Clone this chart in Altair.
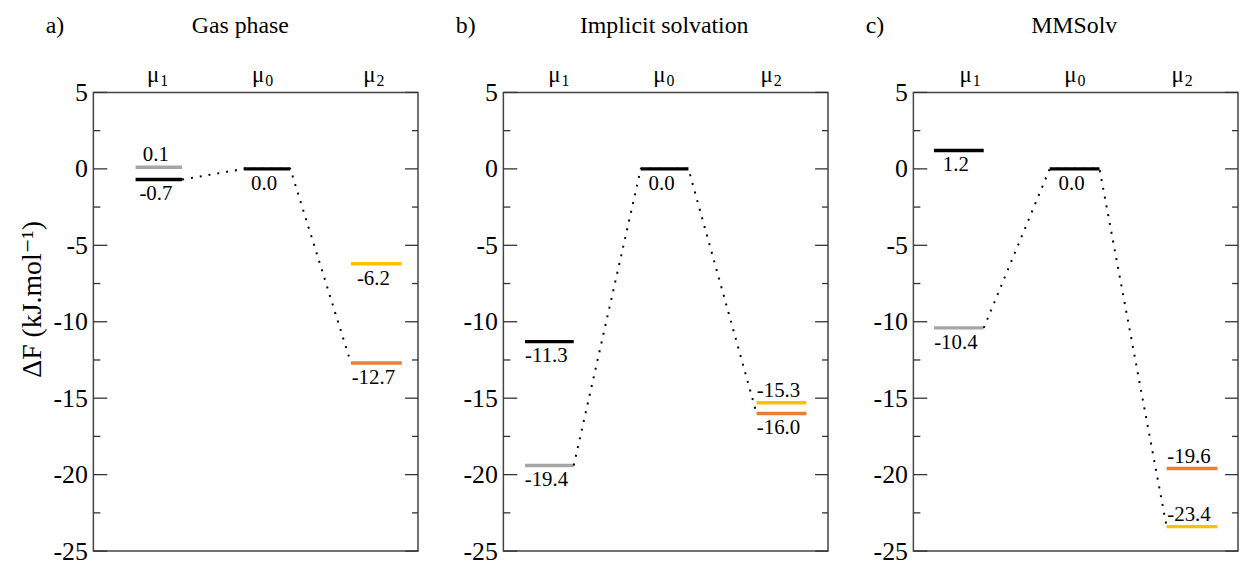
import altair as alt
import pandas as pd

FONT = "Liberation Serif, Times New Roman, DejaVu Serif, serif"
W, H = 327, 462

# ---- data ----
states = ["μ1", "μ1", "μ0", "μ2", "μ2"]
gas_values = [0.1, -0.7, 0.0, -6.2, -12.7]
gas_colors = ["gray", "black", "black", "yellow", "orange"]
gas_pos = ["above", "below", "below", "below", "below"]
gas_path = [-0.7, -12.7]

imp_values = [-11.3, -19.4, 0.0, -15.3, -16.0]
imp_colors = ["black", "gray", "black", "yellow", "orange"]
imp_pos = ["below", "below", "below", "above", "below"]
imp_path = [-19.4, -16.0]

mm_values = [1.2, -10.4, 0.0, -19.6, -23.4]
mm_colors = ["black", "gray", "black", "orange", "yellow"]
mm_pos = ["below", "below", "below", "above", "above"]
mm_path = [-10.4, -23.4]

mu_symbol = ["μ", "μ", "μ"]
mu_index = ["1", "0", "2"]
major_ticks = [-25, -20, -15, -10, -5, 0, 5]
minor_ticks = [-22.5, -17.5, -12.5, -7.5, -2.5, 2.5]

# ---- layout (x extents of levels per state, in panel units 0..3) ----
layout_a = {"μ1": (0.39, 0.82), "μ0": (1.39, 1.82), "μ2": (2.38, 2.85), "mu": [0.59, 1.56, 2.59], "title_x": 148}
layout_b = {"μ1": (0.20, 0.65), "μ0": (1.27, 1.71), "μ2": (2.34, 2.80), "mu": [0.51, 1.48, 2.47], "title_x": 162}
layout_c = {"μ1": (0.19, 0.65), "μ0": (1.26, 1.72), "μ2": (2.34, 2.81), "mu": [0.52, 1.49, 2.48], "title_x": 162}

color_scale = alt.Scale(domain=["black", "gray", "yellow", "orange"],
                        range=["#000000", "#a6a6a6", "#ffc000", "#ed7d31"])
xscale = alt.Scale(domain=[0, 3], nice=False, zero=False)
yscale = alt.Scale(domain=[-25, 5], nice=False, zero=False)


def panel(letter, title, values, colors, pos, path_vals, lay, first):
    df = pd.DataFrame({
        "state": states,
        "value": values,
        "color": colors,
        "pos": pos,
    })
    df["x"] = [lay[s][0] for s in states]
    df["x2"] = [lay[s][1] for s in states]
    df["xc"] = (df["x"] + df["x2"]) / 2
    df["label"] = [f"{v:.1f}" for v in values]

    path_df = pd.DataFrame({
        "x": [lay["μ1"][1], lay["μ0"][0], lay["μ0"][1], lay["μ2"][0]],
        "value": [path_vals[0], 0.0, 0.0, path_vals[1]],
        "o": [0, 1, 2, 3],
    })
    mu_df = pd.DataFrame({"x": lay["mu"], "s": mu_symbol, "i": mu_index})

    common = dict(values=major_ticks, ticks=False, domain=False, grid=False,
                  labelFont=FONT, labelFontSize=26, labelColor="black",
                  labelExpr="toString(datum.value)",
                  labelPadding=6, minExtent=44, maxExtent=44)
    if first:
        yaxis = alt.Axis(title="ΔF (kJ.mol⁻¹)", titleFont=FONT, titleFontSize=28,
                         titleFontWeight="normal", titleColor="black",
                         titleX=-61, titleY=208, titleAngle=270,
                         titleAlign="center", titleBaseline="middle", **common)
    else:
        yaxis = alt.Axis(title=None, **common)

    def Y(field):
        return alt.Y(f"{field}:Q", scale=yscale, axis=yaxis)

    def X(field):
        return alt.X(f"{field}:Q", scale=xscale, axis=None)

    path = alt.Chart(path_df).mark_line(color="black", strokeDash=[2, 7], strokeWidth=2).encode(
        x=X("x"), y=Y("value"), order="o:Q",
    )
    bars = alt.Chart(df).mark_rule(strokeWidth=3.5).encode(
        x=X("x"), x2="x2:Q", y=Y("value"),
        color=alt.Color("color:N", scale=color_scale, legend=None),
    )
    lab_below = alt.Chart(df).transform_filter(alt.datum.pos == "below").mark_text(
        font=FONT, fontSize=21, baseline="alphabetic", dy=21, dx=-3, color="black"
    ).encode(x=X("xc"), y=Y("value"), text="label:N")
    lab_above = alt.Chart(df).transform_filter(alt.datum.pos == "above").mark_text(
        font=FONT, fontSize=21, baseline="alphabetic", dy=-6, dx=-3, color="black"
    ).encode(x=X("xc"), y=Y("value"), text="label:N")

    tick_df_major = pd.DataFrame({"value": major_ticks})
    tick_df_minor = pd.DataFrame({"value": minor_ticks})

    def ticks(d, x0, x1):
        return alt.Chart(d).mark_rule(color="#333333", strokeWidth=1.3).encode(
            y=Y("value"), x=alt.value(x0), x2=alt.value(x1),
        )

    tk = [ticks(tick_df_major, 0, 14), ticks(tick_df_minor, 0, 7),
          ticks(tick_df_major, W - 13, W), ticks(tick_df_minor, W - 6, W)]

    mu_s = alt.Chart(mu_df).mark_text(font=FONT, fontSize=23, baseline="alphabetic", align="right",
                                      dx=2, color="black").encode(
        x=X("x"), y=alt.value(-10), text="s:N",
    )
    mu_i = alt.Chart(mu_df).mark_text(font=FONT, fontSize=16, baseline="alphabetic", align="left",
                                      dx=3, color="black").encode(
        x=X("x"), y=alt.value(-6), text="i:N",
    )
    head = pd.DataFrame({"letter": [letter], "title": [title]})
    let = alt.Chart(head).mark_text(font=FONT, fontSize=24, baseline="alphabetic", align="left",
                                    color="black").encode(
        x=alt.value(-48), y=alt.value(-60), text="letter:N")
    ttl = alt.Chart(head).mark_text(font=FONT, fontSize=24, baseline="alphabetic", align="center",
                                    color="black").encode(
        x=alt.value(lay["title_x"]), y=alt.value(-60), text="title:N")

    return alt.layer(bars, path, lab_below, lab_above, *tk, mu_s, mu_i, let, ttl).properties(width=W, height=H)


pa = panel("a)", "Gas phase", gas_values, gas_colors, gas_pos, gas_path, layout_a, True)
pb = panel("b)", "Implicit solvation", imp_values, imp_colors, imp_pos, imp_path, layout_b, False)
pc = panel("c)", "MMSolv", mm_values, mm_colors, mm_pos, mm_path, layout_c, False)

chart = alt.hconcat(pa, pb, pc, spacing=35).properties(
    padding={"left": 10, "top": 3, "right": 0, "bottom": 0}
).configure_view(stroke="#444444", strokeWidth=1.5)

chart.save("out.html", embed_options={"renderer": "svg", "actions": False})
